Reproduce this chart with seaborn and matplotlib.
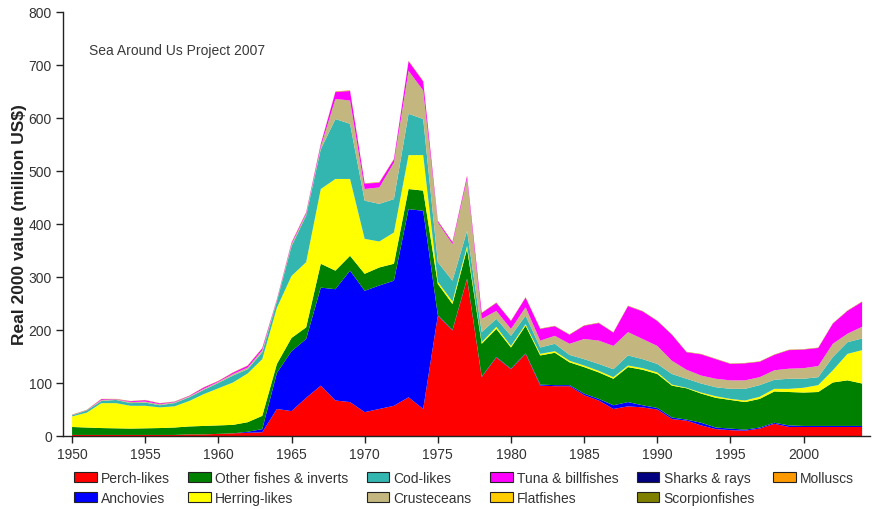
import numpy as np
import pandas as pd
import matplotlib
matplotlib.use("Agg")
import matplotlib.pyplot as plt
from matplotlib.patches import Patch
import seaborn as sns

# Landed value by taxon group, 1950-2004 (real 2000 million US$)
years = list(range(1950, 2005))

perch = [2, 2, 2, 2, 2, 2, 2, 2, 3, 3, 4, 5, 6, 7,
         51, 47, 72, 95, 67, 64, 45, 51, 57, 73, 51, 227, 199, 296,
         111, 148, 126, 155, 95, 94, 94, 77, 67, 51, 56, 54, 50, 32,
         29, 20, 13, 11, 10, 14, 23, 17, 17, 17, 17, 17, 17]

anchovies = [0, 0, 0, 0, 0, 0, 0, 0, 0, 0, 0, 0, 2, 6,
             68, 113, 111, 185, 210, 248, 229, 233, 236, 355, 374, 1, 1, 1,
             1, 1, 1, 1, 2, 2, 2, 3, 3, 7, 8, 4, 3, 3,
             2, 5, 3, 3, 2, 2, 2, 3, 2, 2, 2, 2, 2]

other_fishes = [15, 14, 13, 12.5, 12, 12.5, 13, 14, 15, 16, 16, 16, 18, 25,
                17, 25, 22, 45, 35, 28, 32, 34, 32, 38, 38, 59, 49, 56,
                62, 53, 40, 52, 55, 61, 43, 50, 50, 50, 66, 67, 64, 60,
                59, 55, 56, 54, 52, 54, 59, 63, 63, 64, 82, 86, 80]

herring = [20, 28, 47, 47.5, 43, 42.5, 39, 40, 48, 60, 70, 80, 92, 107,
           106, 117, 123, 141, 173, 145, 66, 49, 59, 64, 67, 4, 5, 6,
           3, 4, 3, 3, 3, 3, 3, 3, 3, 3, 3, 3, 3, 2,
           1, 2, 3, 2, 3, 4, 5, 6, 9, 13, 23, 50, 63]

cod = [2, 4, 4, 6, 5, 6, 4, 6, 7, 8, 10, 13, 8, 13,
       12, 56, 88, 75, 113, 104, 72, 71, 63, 78, 68, 37, 39, 28,
       19, 15, 19, 16, 12, 14, 11, 12, 13, 15, 19, 17, 16, 20,
       17, 17, 17, 19, 22, 22, 17, 19, 17, 15, 25, 22, 22]

crustaceans = [0.5, 0.5, 2, 1, 2, 2, 2, 1.5, 1.5, 2, 2, 3, 3, 4,
               2, 4, 3, 5, 38, 44, 22, 31, 69, 81, 54, 75, 69, 98,
               25, 15, 13, 16, 13, 15, 21, 38, 44, 44, 44, 38, 34, 25,
               17, 15, 16, 16, 16, 15, 18, 19, 20, 21, 25, 16, 22]

tuna = [0.3, 0.3, 1.5, 0.5, 1.5, 2.5, 1.5, 1, 1, 2.5, 1.5, 2.5, 3.5, 3.5,
        1.5, 2.5, 2.5, 4.5, 13, 18, 10, 9, 6, 18, 17, 2.5, 3.5, 5.5,
        11, 15, 15, 18, 22, 18, 17, 25, 33, 25, 49, 52, 47, 49,
        33, 40, 37, 31, 32, 29, 29, 35, 35, 34, 38, 43, 47]

flatfishes = [0.1, 0.1, 0.1, 0.1, 0.1, 0.1, 0.1, 0.1, 0.1, 0.1, 0.1, 0.1, 0.1, 0.1,
              0.2, 0.2, 0.2, 0.2, 0.3, 0.3, 0.2, 0.2, 0.2, 0.3, 0.3, 0.2, 0.2, 0.2,
              0.1, 0.1, 0.1, 0.1, 0.1, 0.1, 0.1, 0.1, 0.1, 0.1, 0.1, 0.1, 0.1, 0.1,
              0.1, 0.1, 0.1, 0.1, 0.1, 0.1, 0.1, 0.1, 0.1, 0.1, 0.1, 0.1, 0.1]

sharks = [0.1, 0.1, 0.1, 0.1, 0.1, 0.1, 0.1, 0.1, 0.1, 0.1, 0.1, 0.1, 0.1, 0.1,
          0.1, 0.1, 0.1, 0.2, 0.2, 0.2, 0.2, 0.2, 0.2, 0.2, 0.2, 0.2, 0.2, 0.2,
          0.2, 0.2, 0.2, 0.2, 0.2, 0.2, 0.2, 0.2, 0.2, 0.2, 0.2, 0.2, 0.2, 0.2,
          0.2, 0.2, 0.2, 0.2, 0.2, 0.2, 0.2, 0.2, 0.2, 0.2, 0.2, 0.2, 0.2]

scorpionfishes = [0.1, 0.1, 0.1, 0.1, 0.1, 0.1, 0.1, 0.1, 0.1, 0.1, 0.1, 0.1, 0.1, 0.1,
                  0.1, 0.1, 0.1, 0.1, 0.1, 0.1, 0.1, 0.1, 0.1, 0.1, 0.1, 0.1, 0.1, 0.1,
                  0.1, 0.1, 0.1, 0.1, 0.1, 0.1, 0.1, 0.1, 0.1, 0.1, 0.1, 0.1, 0.1, 0.1,
                  0.1, 0.1, 0.1, 0.1, 0.1, 0.1, 0.1, 0.1, 0.1, 0.1, 0.1, 0.1, 0.1]

molluscs = [0.3, 0.3, 0.3, 0.3, 0.3, 0.3, 0.3, 0.3, 0.3, 0.3, 0.4, 0.4, 0.4, 0.4,
            0.5, 0.5, 0.5, 0.6, 0.6, 0.6, 0.5, 0.5, 0.5, 0.6, 0.6, 0.5, 0.5, 0.5,
            0.5, 0.5, 0.5, 0.5, 0.5, 0.5, 0.5, 0.5, 0.5, 0.5, 0.5, 0.5, 0.5, 0.5,
            0.5, 0.5, 0.5, 0.5, 0.5, 0.5, 0.5, 0.5, 0.5, 0.5, 0.5, 0.5, 0.5]

# Stacking order, bottom to top
groups = ["Perch-likes", "Anchovies", "Other fishes & inverts", "Herring-likes",
          "Cod-likes", "Crusteceans", "Tuna & billfishes", "Flatfishes",
          "Sharks & rays", "Scorpionfishes", "Molluscs"]
series = [perch, anchovies, other_fishes, herring, cod, crustaceans, tuna,
          flatfishes, sharks, scorpionfishes, molluscs]
colors = ["#FF0000", "#0000FF", "#008000", "#FFFF00", "#33B5B0", "#C3B77F",
          "#FF00FF", "#FFCC00", "#000080", "#808000", "#FF9900"]
palette = dict(zip(groups, colors))

df = pd.concat(
    [pd.DataFrame({"year": years, "value": vals, "group": name})
     for name, vals in zip(groups, series)],
    ignore_index=True,
)

sns.set_theme(style="ticks")
plt.rcParams["font.family"] = ["Liberation Sans", "DejaVu Sans"]

fig = plt.figure(figsize=(8.72, 5.10), dpi=100)
ax = fig.add_axes([63 / 872, 1 - 437 / 510, (870 - 63) / 872, (437 - 13) / 510])

# seaborn stacks the last hue level at the bottom, so pass the order reversed
sns.histplot(
    data=df, x="year", weights="value", hue="group",
    hue_order=groups[::-1], palette=palette,
    multiple="stack", element="poly", discrete=True,
    alpha=1, linewidth=0, edgecolor="none", legend=False, ax=ax,
)

ax.set_xlim(1949.38, 2004.54)
ax.set_ylim(0, 800)
ax.set_xticks(range(1950, 2001, 5))
ax.set_yticks(range(0, 801, 100))
ax.set_xlabel("")
ax.set_ylabel("Real 2000 value (million US$)", fontsize=12.5, fontweight="bold",
              color="#222222")
ax.yaxis.set_label_coords(-(63 - 27) / 807, 0.5)
ax.tick_params(axis="both", labelsize=10, colors="#333333", length=5, width=1,
               direction="out", pad=3)
ax.tick_params(axis="both", color="#222222")
for side in ("top", "right"):
    ax.spines[side].set_visible(False)
for side in ("left", "bottom"):
    ax.spines[side].set_color("#222222")
    ax.spines[side].set_linewidth(1)

fig.text(89 / 872, 1 - 50.7 / 510, "Sea Around Us Project 2007", fontsize=10,
         color="#3a3a3a", va="center", ha="left")

handles = [Patch(facecolor=palette[g], edgecolor="#222222", linewidth=0.8, label=g)
           for g in groups]
fig.legend(
    handles=handles, loc="upper left", bbox_to_anchor=(74 / 872, 1 - 472 / 510),
    ncol=6, frameon=False, fontsize=10, handlelength=1.65, handleheight=0.72,
    handletextpad=0.3, columnspacing=1.3, labelspacing=0.45,
    borderpad=0, borderaxespad=0, labelcolor="#333333",
)

fig.savefig("out.png", dpi=100)
